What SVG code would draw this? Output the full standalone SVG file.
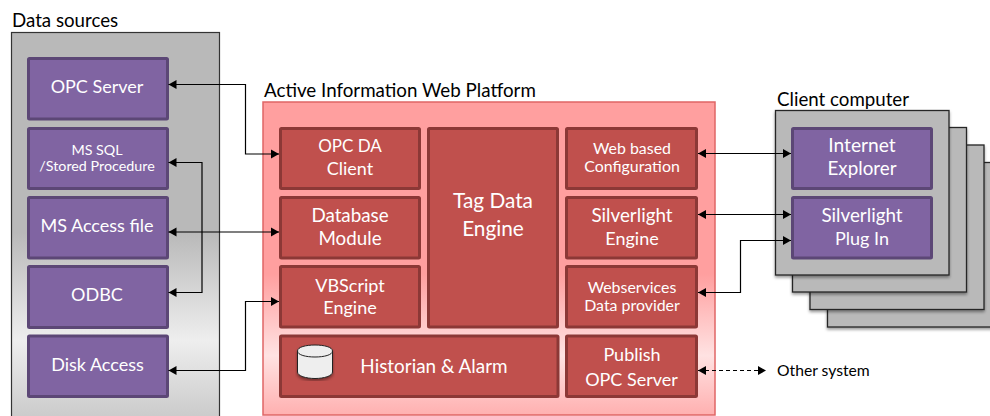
<svg xmlns="http://www.w3.org/2000/svg" width="990" height="416" viewBox="0 0 990 416">
<style>
text{font-family:Lato,"Open Sans","Liberation Sans",sans-serif;text-anchor:middle;fill:#fff;font-size:18px}
.t{fill:#000;text-anchor:start;font-size:18.700px}
.s{font-size:15.900px}
.m{font-size:18.800px}
.p rect{fill:#8064a2;stroke:#5c4776;stroke-width:3}
.r rect{fill:#c0504d;stroke:#8c3836;stroke-width:3}
.c{fill:#b9b9b9;stroke:#262626;stroke-width:1.3;filter:url(#sh)}
.l{fill:none;stroke:#000;stroke-width:1.2;marker-start:url(#as);marker-end:url(#ae)}
</style>
<defs>
<marker id="ae" markerUnits="userSpaceOnUse" markerWidth="10" markerHeight="10" refX="9" refY="5" orient="auto"><path d="M1 0.5L9 5L1 9.500Z" fill="#000"/></marker>
<marker id="as" markerUnits="userSpaceOnUse" markerWidth="10" markerHeight="10" refX="1" refY="5" orient="auto"><path d="M9 0.500L1 5L9 9.500Z" fill="#000"/></marker>
<linearGradient id="g" x1="0" y1="0" x2="0" y2="1"><stop offset="0" stop-color="#b9b9b9"/><stop offset="0.5" stop-color="#b9b9b9"/><stop offset="0.77" stop-color="#eeeeee"/><stop offset="1" stop-color="#c4c4c4"/></linearGradient>
<linearGradient id="rg" x1="0" y1="0" x2="0" y2="1"><stop offset="0" stop-color="#ff9f9f"/><stop offset="0.55" stop-color="#ff9f9f"/><stop offset="0.81" stop-color="#ffe2e2"/><stop offset="1" stop-color="#ffb0b0"/></linearGradient>
<filter id="sh" x="-5%" y="-5%" width="110%" height="110%"><feDropShadow dx="0" dy="2" stdDeviation="1.5" flood-color="#000" flood-opacity="0.4"/></filter>
</defs>

<g id="data-sources">
<rect x="11.500" y="32.500" width="208" height="400" fill="url(#g)" stroke="#333" stroke-width="1.200"/>
<text class="t" x="12" y="27">Data sources</text>
</g>
<g id="opc-server" class="p"><rect x="28.500" y="58.500" width="139" height="60.500" rx="1"/><text x="97" y="93">OPC Server</text></g>
<g id="ms-sql" class="p"><rect x="28.500" y="128.500" width="139" height="60" rx="1"/><text style="font-size:14.300px" x="97" y="155">MS SQL</text><text x="97" y="171" style="font-size:14.300px">/Stored Procedure</text></g>
<g id="ms-access" class="p"><rect x="28.500" y="197.500" width="139" height="60.500" rx="1"/><text x="97" y="232">MS Access file</text></g>
<g id="odbc" class="p"><rect x="28.500" y="266.500" width="139" height="61" rx="1"/><text x="97" y="301">ODBC</text></g>
<g id="disk-access" class="p"><rect x="28.500" y="336" width="139" height="60.500" rx="1"/><text x="97.500" y="371">Disk Access</text></g>

<g id="platform">
<rect x="263" y="102" width="452" height="313" fill="url(#rg)" stroke="#e06666" stroke-width="1.500"/>
<text class="t" style="font-size:18.750px" x="264" y="97">Active Information Web Platform</text>
</g>
<g id="opc-da" class="r"><rect x="280.500" y="128.500" width="139" height="60" rx="1"/><text style="font-size:17px" x="350" y="152">OPC DA</text><text x="350" y="175">Client</text></g>
<g id="database" class="r"><rect x="280.500" y="197.500" width="139" height="60.500" rx="1"/><text class="m" x="350" y="222">Database</text><text class="m" x="350" y="245">Module</text></g>
<g id="vbscript" class="r"><rect x="280.500" y="266.500" width="139" height="60.500" rx="1"/><text x="350" y="292">VBScript</text><text x="350" y="314">Engine</text></g>
<g id="tag-data" class="r"><rect x="428.500" y="128.500" width="129" height="198.500" rx="1"/><text style="font-size:20.800px" x="493" y="208">Tag Data</text><text style="font-size:20.800px" x="493" y="236">Engine</text></g>
<g id="historian" class="r"><rect x="280.500" y="336" width="277.500" height="60.500" rx="1"/><text style="font-size:18.900px" x="434" y="373">Historian &amp; Alarm</text></g>
<g id="cylinder" filter="url(#sh)"><path d="M297.500 351V372C297.500 376 306 378.500 315 378.500C324 378.500 332.500 376 332.500 372V351C332.500 347 324 345 315 345C306 345 297.500 347 297.500 351Z" fill="#eeeeee" stroke="#222" stroke-width="1"/><path d="M297.500 351C297.500 355 306 357 315 357C324 357 332.500 355 332.500 351" fill="none" stroke="#222" stroke-width="1"/></g>
<g id="web-config" class="r"><rect x="566.500" y="128.500" width="130" height="60" rx="1"/><text class="s" x="632" y="154">Web based</text><text class="s" x="632" y="172">Configuration</text></g>
<g id="silverlight-engine" class="r"><rect x="566.500" y="197.500" width="130" height="60.500" rx="1"/><text class="m" x="632" y="222">Silverlight</text><text x="632" y="245">Engine</text></g>
<g id="webservices" class="r"><rect x="566.500" y="266.500" width="130" height="60.500" rx="1"/><text class="s" x="632" y="293">Webservices</text><text class="s" x="632" y="311">Data provider</text></g>
<g id="publish" class="r"><rect x="566.500" y="336" width="130" height="60.500" rx="1"/><text x="632" y="361">Publish</text><text x="631.500" y="386">OPC Server</text></g>

<g id="client-computer">
<rect class="c" x="827.500" y="162.500" width="174" height="164.500"/>
<rect class="c" x="810" y="145" width="174" height="164.500"/>
<rect class="c" x="792.500" y="127.500" width="174" height="164.500"/>
<rect class="c" x="775.500" y="110.500" width="173.500" height="164.500"/>
<text class="t" x="777" y="106">Client computer</text>
</g>
<g id="ie" class="p"><rect x="792.500" y="128.500" width="139" height="60" rx="1"/><text style="font-size:19.200px" x="862" y="152">Internet</text><text class="m" x="862" y="175">Explorer</text></g>
<g id="plugin" class="p"><rect x="792.500" y="197.500" width="139" height="60.500" rx="1"/><text class="m" x="862" y="222">Silverlight</text><text x="862" y="245">Plug In</text></g>
<text id="other-system" class="t" style="font-size:15.700px" x="777" y="376">Other system</text>

<g id="connectors">
<path class="l" d="M168.500 84.500H245.500V154H279"/>
<path class="l" d="M168.500 162.500H202V292.500H168.500"/>
<path class="l" d="M168.500 232H279"/>
<path class="l" d="M168.500 370.500H245.500V301.500H279"/>
<path class="l" d="M698 153.500H791"/>
<path class="l" d="M698 214.500H791"/>
<path class="l" d="M698 292.500H740.500V240.500H791"/>
<path class="l" d="M698 370.500H766" stroke-dasharray="4 3"/>
</g>
</svg>
